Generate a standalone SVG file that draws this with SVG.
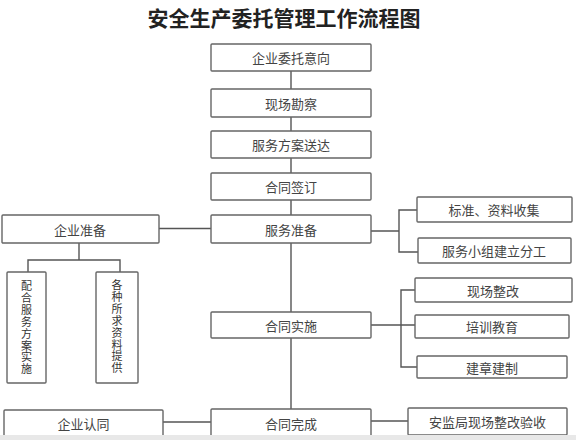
<svg xmlns="http://www.w3.org/2000/svg" width="576" height="440" viewBox="0 0 576 440">
<style>
.box{fill:#fff;stroke:#666;stroke-width:1.4}
.lbl{font-family:"Noto Sans CJK SC","Liberation Sans",sans-serif;font-size:13px;fill:#444;text-anchor:middle;dominant-baseline:central}
.vl{font-family:"Noto Sans CJK SC","Liberation Sans",sans-serif;font-size:11px;fill:#333;text-anchor:middle}
.conn{fill:none;stroke:#555;stroke-width:1.4}
.title{font-family:"Noto Sans CJK SC","Liberation Sans",sans-serif;font-size:21px;font-weight:bold;fill:#222;text-anchor:middle}
</style>
<rect width="576" height="440" fill="#fff"/>
<text class="title" x="284" y="26">安全生产委托管理工作流程图</text>
<g id="connectors">
<path class="conn" d="M291 71V89M291 117V131M291 158V173M291 200V215M291 243V312M291 338V409"/>
<path class="conn" d="M159 228.5H211"/>
<path class="conn" d="M79 243V260M28 272V260H120V272"/>
<path class="conn" d="M371 231H399M417 210H399V252H418"/>
<path class="conn" d="M371 325H415M415 290H401V367H417"/>
<path class="conn" d="M163 422H211"/>
<path class="conn" d="M371 421H408"/>
</g>
<g id="n1"><rect class="box" x="211" y="44" width="160" height="27" rx="1"/><text class="lbl" x="291" y="57.5">企业委托意向</text></g>
<g id="n2"><rect class="box" x="211" y="89" width="160" height="28" rx="1"/><text class="lbl" x="291" y="103">现场勘察</text></g>
<g id="n3"><rect class="box" x="211" y="131" width="160" height="27" rx="1"/><text class="lbl" x="291" y="144.5">服务方案送达</text></g>
<g id="n4"><rect class="box" x="211" y="173" width="160" height="27" rx="1"/><text class="lbl" x="291" y="186.5">合同签订</text></g>
<g id="n5"><rect class="box" x="211" y="215" width="160" height="28" rx="1"/><text class="lbl" x="291" y="229">服务准备</text></g>
<g id="n6"><rect class="box" x="211" y="312" width="160" height="26" rx="1"/><text class="lbl" x="291" y="325">合同实施</text></g>
<g id="n7"><rect class="box" x="211" y="409" width="160" height="28" rx="1"/><text class="lbl" x="291" y="423">合同完成</text></g>
<g id="l1"><rect class="box" x="2" y="215" width="157" height="28" rx="1"/><text class="lbl" x="80" y="229">企业准备</text></g>
<g id="l2"><rect class="box" x="7" y="272" width="39" height="111" rx="1"/>
<text class="vl" x="26.5" y="290"><tspan x="26.5">配</tspan><tspan x="26.5" dy="11.9">合</tspan><tspan x="26.5" dy="11.9">服</tspan><tspan x="26.5" dy="11.9">务</tspan><tspan x="26.5" dy="11.9">方</tspan><tspan x="26.5" dy="11.9">案</tspan><tspan x="26.5" dy="11.9">实</tspan><tspan x="26.5" dy="11.9">施</tspan></text></g>
<g id="l3"><rect class="box" x="96" y="272" width="42" height="111" rx="1"/>
<text class="vl" x="117" y="289"><tspan x="117">各</tspan><tspan x="117" dy="11.9">种</tspan><tspan x="117" dy="11.9">所</tspan><tspan x="117" dy="11.9">求</tspan><tspan x="117" dy="11.9">资</tspan><tspan x="117" dy="11.9">料</tspan><tspan x="117" dy="11.9">提</tspan><tspan x="117" dy="11.9">供</tspan></text></g>
<g id="l4"><rect class="box" x="4" y="410" width="159" height="28" rx="1"/><text class="lbl" x="83.5" y="423">企业认同</text></g>
<g id="r1"><rect class="box" x="417" y="197" width="155" height="25" rx="1"/><text class="lbl" x="494" y="209.5">标准、资料收集</text></g>
<g id="r2"><rect class="box" x="418" y="238" width="153" height="25" rx="1"/><text class="lbl" x="494" y="250.5">服务小组建立分工</text></g>
<g id="r3"><rect class="box" x="415" y="278" width="157" height="24" rx="1"/><text class="lbl" x="493" y="290">现场整改</text></g>
<g id="r4"><rect class="box" x="415" y="315" width="154" height="23" rx="1"/><text class="lbl" x="492" y="326.5">培训教育</text></g>
<g id="r5"><rect class="box" x="417" y="356" width="150" height="22" rx="1"/><text class="lbl" x="492" y="367">建章建制</text></g>
<g id="r6"><rect class="box" x="408" y="408" width="159" height="27" rx="1"/><text class="lbl" x="487.5" y="421.5">安监局现场整改验收</text></g>
<rect x="0" y="435" width="576" height="5" fill="#e8e8e8"/>
</svg>
